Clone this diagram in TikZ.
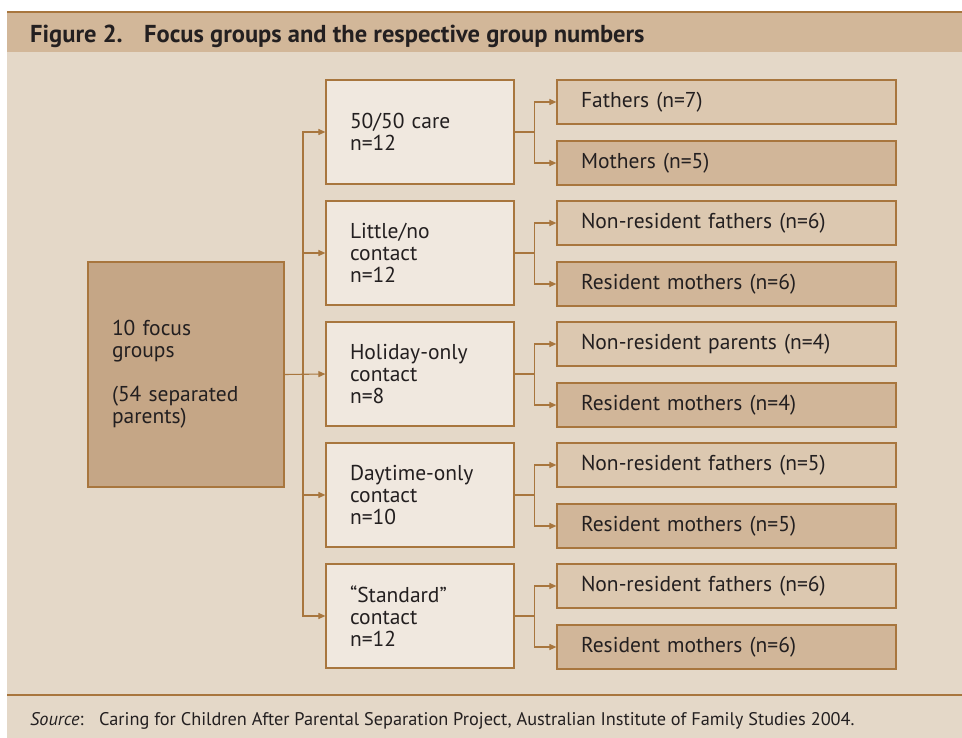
\documentclass[tikz,border=0pt]{standalone}
\usepackage{fontspec}
\setmainfont{PT Sans}
\usetikzlibrary{arrows.meta}
\definecolor{hdr}{HTML}{D2B799}
\definecolor{panel}{HTML}{E4D8C8}
\definecolor{mainfill}{HTML}{C5A686}
\definecolor{midfill}{HTML}{F0E8DF}
\definecolor{rtop}{HTML}{DCC8B0}
\definecolor{rbot}{HTML}{D1B699}
\definecolor{edge}{HTML}{A8763E}
\definecolor{txt}{HTML}{231F20}
\tikzset{
  boxbase/.style={draw=edge, line width=1.2pt, inner xsep=24pt, inner ysep=0pt, align=left, anchor=center, text=txt, font=\fontsize{21.5}{22}\selectfont},
  mainbox/.style={boxbase, fill=mainfill, text width=148pt, minimum width=196pt, minimum height=225pt},
  midbox/.style={boxbase, fill=midfill, text width=140pt, minimum width=188pt, minimum height=104pt},
  rtopbox/.style={boxbase, fill=rtop, text width=291pt, minimum width=339pt, minimum height=44pt},
  rbotbox/.style={boxbase, fill=rbot, text width=291pt, minimum width=339pt, minimum height=44pt},
  arr/.style={draw=edge, line width=1.1pt, -{Triangle[length=7pt,width=6pt]}},
  conn/.style={draw=edge, line width=1.1pt}
}
\begin{document}
\begin{tikzpicture}[x=1pt,y=-1pt]
\useasboundingbox[fill=white] (0,0) rectangle (962,738);
% background
\fill[panel] (7,52) rectangle (962,738);
\fill[hdr] (7,12) rectangle (962,52);
\draw[edge, line width=1.6pt] (7,12) -- (962,12);
\draw[edge, line width=1.4pt] (7,695) -- (962,695);
\node[anchor=base west, inner sep=0pt, text=txt, font=\bfseries\fontsize{24.5}{26}\selectfont] (title) at (30,43) {\makebox[114pt][l]{Figure 2.}Focus groups and the respective group numbers};
\node[anchor=base west, inner sep=0pt, text=txt, font=\fontsize{18.3}{20}\selectfont] (source) at (30,725) {\makebox[69pt][l]{\textit{Source}:}Caring for Children After Parental Separation Project, Australian Institute of Family Studies 2004.};
% main box
\node[mainbox] (main) at (186,374.5) {10 focus\\groups\\[22pt](54 separated\\parents)};
% middle boxes
\node[midbox] (m1) at (420,132) {50/50 care\\n=12};
\node[midbox] (m2) at (420,253) {Little/no\\contact\\n=12};
\node[midbox] (m3) at (420,374) {Holiday-only\\contact\\n=8};
\node[midbox] (m4) at (420,495) {Daytime-only\\contact\\n=10};
\node[midbox] (m5) at (420,616) {``Standard''\\contact\\n=12};
% right boxes
\node[rtopbox] (r1a) at (726.5,102) {Fathers (n=7)};
\node[rbotbox] (r1b) at (726.5,163) {Mothers (n=5)};
\node[rtopbox] (r2a) at (726.5,223) {Non-resident fathers (n=6)};
\node[rbotbox] (r2b) at (726.5,284) {Resident mothers (n=6)};
\node[rtopbox] (r3a) at (726.5,344) {Non-resident parents (n=4)};
\node[rbotbox] (r3b) at (726.5,405) {Resident mothers (n=4)};
\node[rtopbox] (r4a) at (726.5,465) {Non-resident fathers (n=5)};
\node[rbotbox] (r4b) at (726.5,526) {Resident mothers (n=5)};
\node[rtopbox] (r5a) at (726.5,586) {Non-resident fathers (n=6)};
\node[rbotbox] (r5b) at (726.5,647) {Resident mothers (n=6)};
% connectors main -> middle
\coordinate (trunk) at (303,374);
\draw[arr] (main.east) -- (m3.west);
\draw[arr] (trunk) |- (m1.west);
\draw[arr] (trunk) |- (m2.west);
\draw[arr] (trunk) |- (m4.west);
\draw[arr] (trunk) |- (m5.west);
% connectors middle -> right
\foreach \m in {1,...,5}{
  \draw[arr] (m\m.east) -- ++(20,0) |- (r\m a.west);
  \draw[arr] (m\m.east) -- ++(20,0) |- (r\m b.west);
}
\end{tikzpicture}
\end{document}
